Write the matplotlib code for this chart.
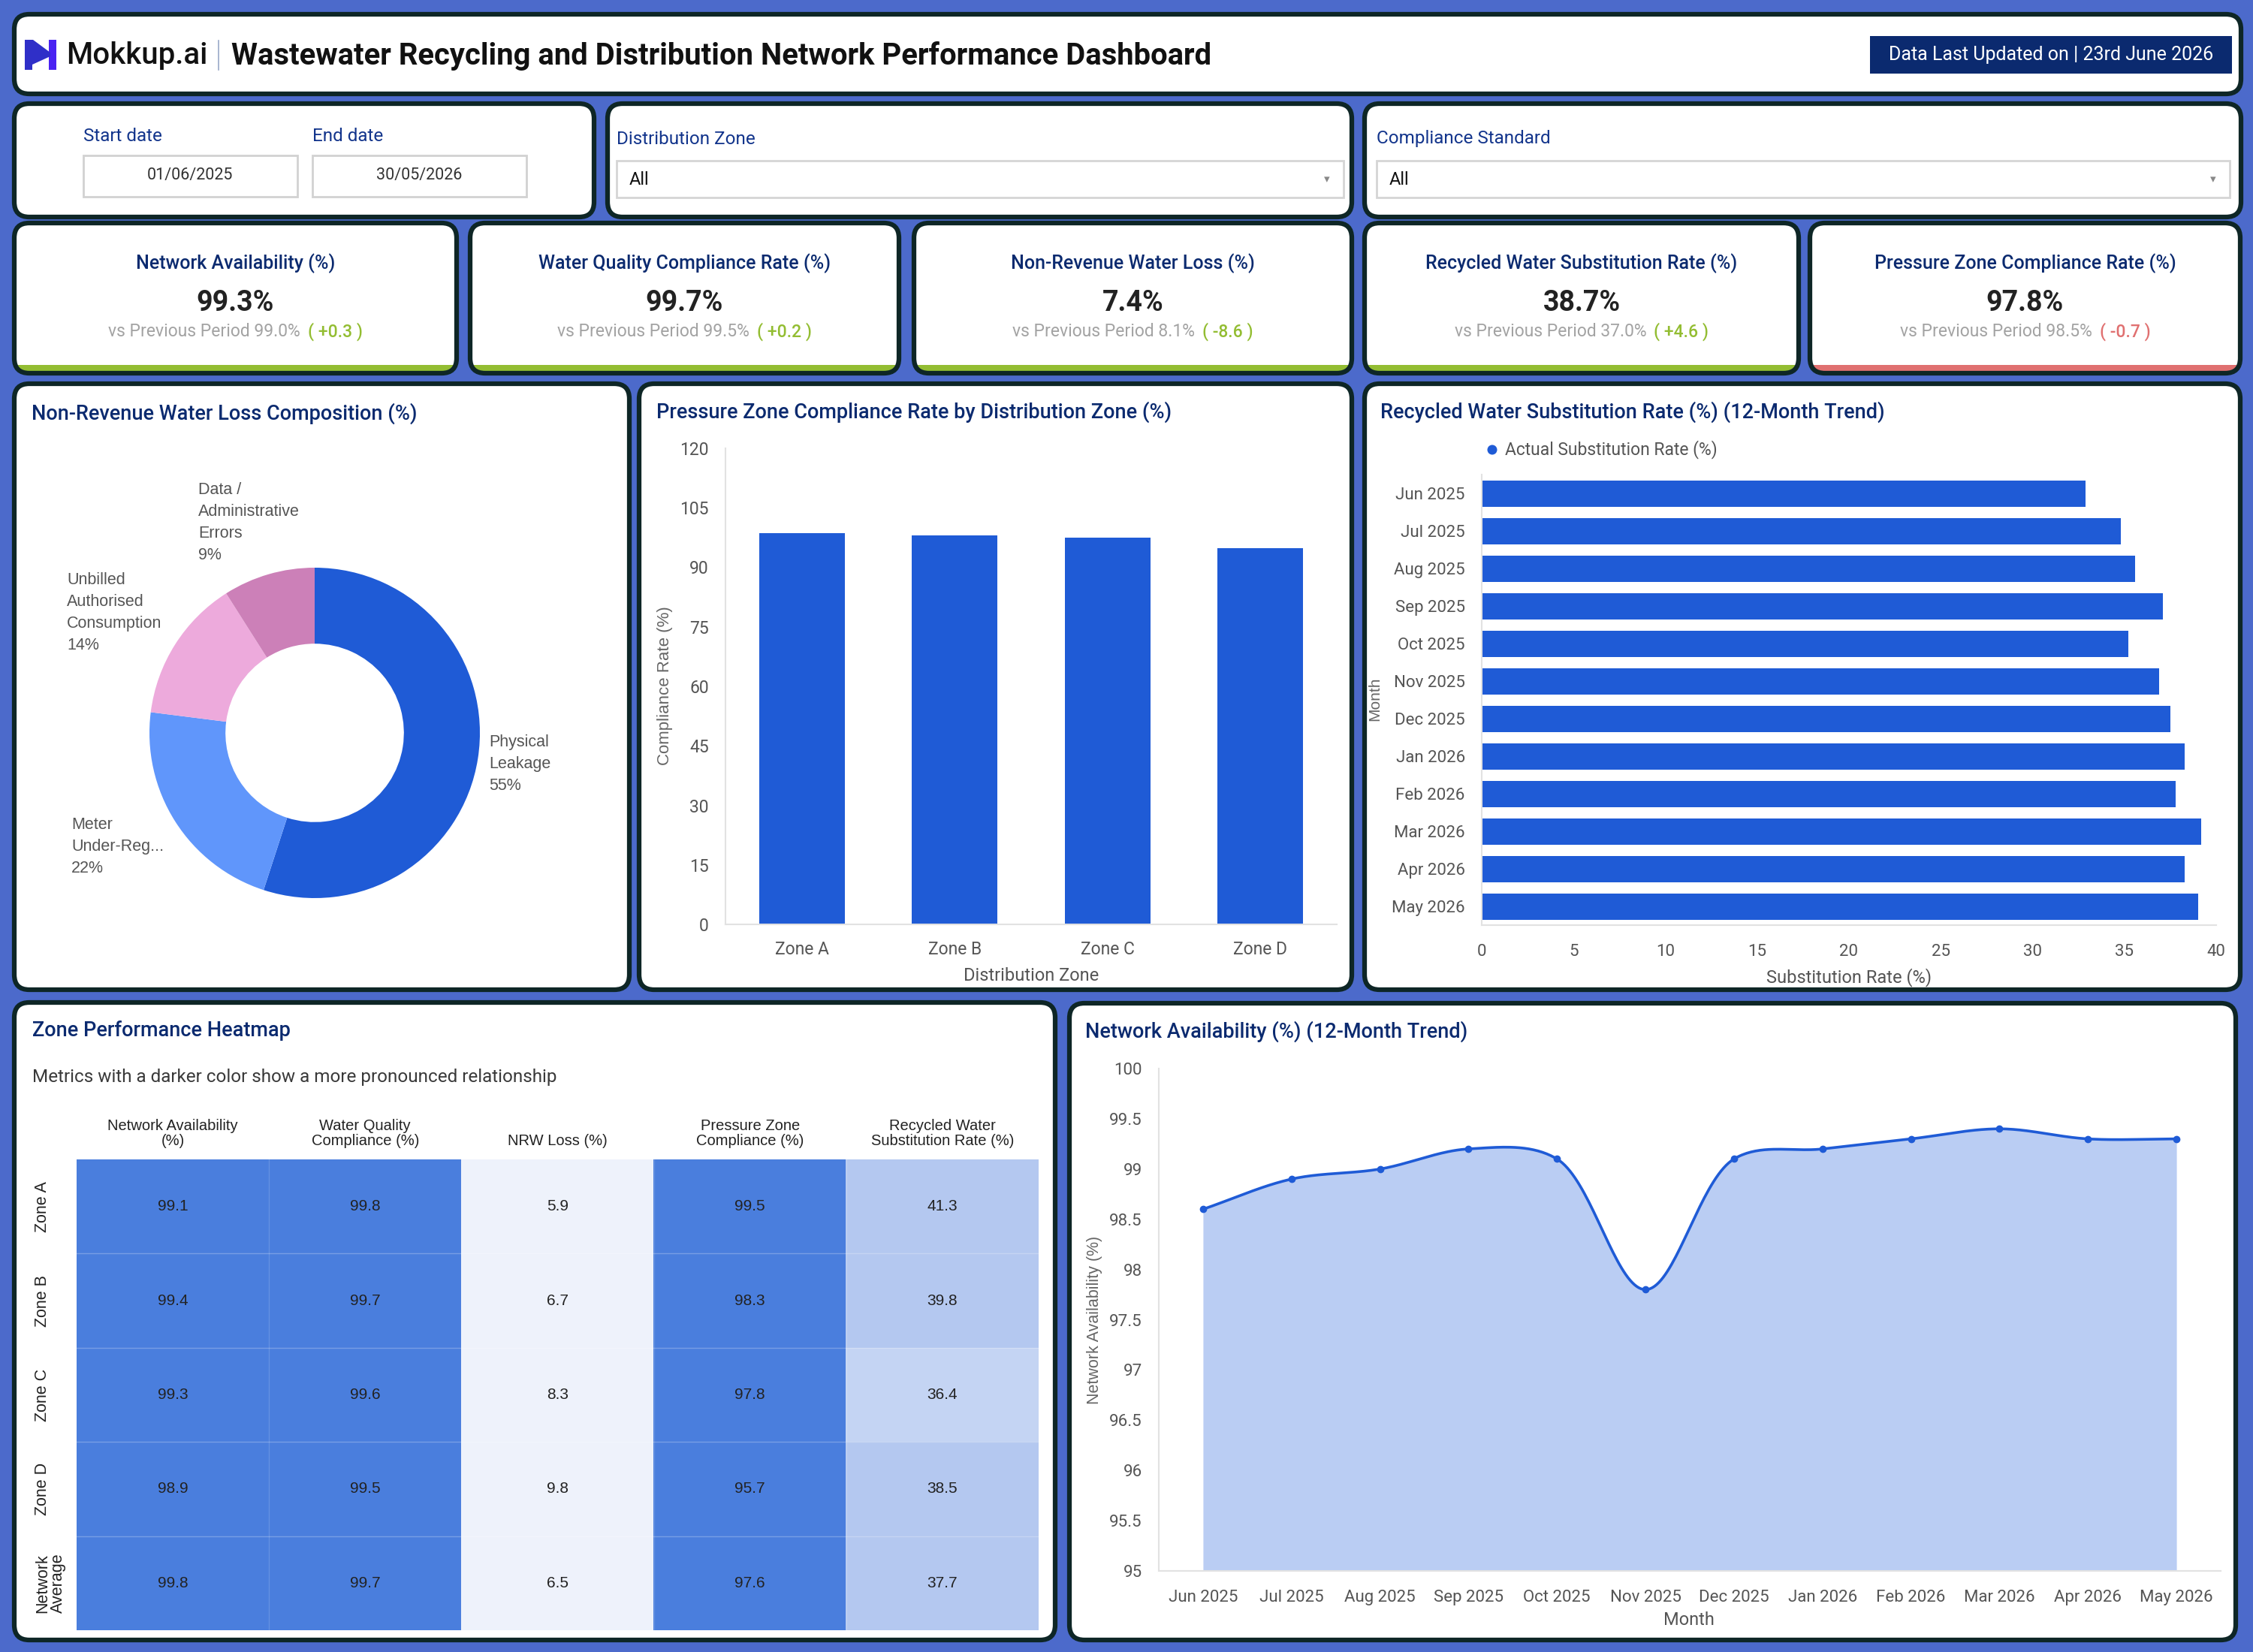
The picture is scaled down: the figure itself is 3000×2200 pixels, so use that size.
import numpy as np
import matplotlib.pyplot as plt
from matplotlib.patches import FancyBboxPatch, Rectangle, Polygon, Circle
from matplotlib.colors import ListedColormap, BoundaryNorm
from matplotlib.transforms import blended_transform_factory

plt.rcParams['font.family'] = ['Roboto', 'DejaVu Sans']

W, H = 3000, 2200
BG = '#4C6ACB'
EDGE = '#0E2626'
NAVY = '#0B2A6F'
BLUE = '#1F5BD6'
GREEN = '#93BD32'
RED = '#E07070'
ARIAL = ['Liberation Sans', 'DejaVu Sans']

# ---- data ----
kpi_titles = ['Network Availability (%)', 'Water Quality Compliance Rate (%)',
              'Non-Revenue Water Loss (%)', 'Recycled Water Substitution Rate (%)',
              'Pressure Zone Compliance Rate (%)']
kpi_values = ['99.3%', '99.7%', '7.4%', '38.7%', '97.8%']
kpi_prev = ['99.0%', '99.5%', '8.1%', '37.0%', '98.5%']
kpi_delta = ['+0.3', '+0.2', '-8.6', '+4.6', '-0.7']
kpi_good = [True, True, True, True, False]

nrw_labels = ['Physical\nLeakage\n55%', 'Meter\nUnder-Reg...\n22%',
              'Unbilled\nAuthorised\nConsumption\n14%', 'Data /\nAdministrative\nErrors\n9%']
nrw_share = [55, 22, 14, 9]
nrw_colors = ['#1F5BD6', '#6096FB', '#EDAADC', '#CC80B8']

zones = ['Zone A', 'Zone B', 'Zone C', 'Zone D']
zone_pressure = [98.7, 98.0, 97.5, 94.9]

months = ['Jun 2025', 'Jul 2025', 'Aug 2025', 'Sep 2025', 'Oct 2025', 'Nov 2025',
          'Dec 2025', 'Jan 2026', 'Feb 2026', 'Mar 2026', 'Apr 2026', 'May 2026']
recycled_rate = [32.9, 34.8, 35.6, 37.1, 35.2, 36.9, 37.5, 38.3, 37.8, 39.2, 38.3, 39.0]
availability = [98.6, 98.9, 99.0, 99.2, 99.1, 97.8, 99.1, 99.2, 99.3, 99.4, 99.3, 99.3]

heat_rows = ['Zone A', 'Zone B', 'Zone C', 'Zone D', 'Network\nAverage']
heat_cols = ['Network Availability\n(%)', 'Water Quality\nCompliance (%)', 'NRW Loss (%)',
             'Pressure Zone\nCompliance (%)', 'Recycled Water\nSubstitution Rate (%)']
heat_values = [[99.1, 99.8, 5.9, 99.5, 41.3],
               [99.4, 99.7, 6.7, 98.3, 39.8],
               [99.3, 99.6, 8.3, 97.8, 36.4],
               [98.9, 99.5, 9.8, 95.7, 38.5],
               [99.8, 99.7, 6.5, 97.6, 37.7]]

fig = plt.figure(figsize=(30, 22), dpi=100)
fig.patch.set_facecolor(BG)
bg = fig.add_axes([0, 0, 1, 1])
bg.set_xlim(0, W)
bg.set_ylim(H, 0)
bg.axis('off')
renderer = fig.canvas.get_renderer()


def px_axes(x0, y0, x1, y1):
    a = fig.add_axes([x0 / W, 1 - y1 / H, (x1 - x0) / W, (y1 - y0) / H])
    a.set_facecolor('none')
    return a


def card(x0, y0, x1, y1, strip=None):
    p = FancyBboxPatch((x0, y0), x1 - x0, y1 - y0, boxstyle='round,pad=0,rounding_size=20',
                       fc=strip or 'white', ec='none', zorder=1)
    bg.add_patch(p)
    if strip:
        r = Rectangle((x0, y0), x1 - x0, y1 - y0 - 11, fc='white', ec='none', zorder=1.1)
        bg.add_patch(r)
        r.set_clip_path(p)
    bg.add_patch(FancyBboxPatch((x0, y0), x1 - x0, y1 - y0, boxstyle='round,pad=0,rounding_size=20',
                                fc='none', ec=EDGE, lw=4.5, zorder=1.2))


# ---- header ----
card(19, 19, 2984, 125)
bg.add_patch(Rectangle((65, 53), 10, 40, fc='#4A22F2', ec='none', zorder=2))
bg.add_patch(Polygon([(33, 53), (44, 53), (67, 70), (67, 75), (43, 86), (43, 93), (33, 93)],
                     closed=True, fc='#2F2FC8', ec='none', zorder=2.1))
bg.text(88, 74, 'Mokkup.ai', fontsize=29, fontweight='medium', color='#111111', va='center', zorder=3)
bg.plot([291, 291], [54, 93], color='#9AA9C8', lw=1.2, zorder=3)
bg.text(308, 74, 'Wastewater Recycling and Distribution Network Performance Dashboard',
        fontsize=28.8, fontweight='bold', color='#111111', va='center', zorder=3)
bg.add_patch(Rectangle((2490, 48), 482, 50, fc='#0B2A6F', ec='none', zorder=2))
bg.text(2731, 73, 'Data Last Updated on | 23rd June 2026', fontsize=18, color='white',
        ha='center', va='center', zorder=3)

# ---- filters ----
card(19, 138, 791, 289)
card(809, 138, 1800, 289)
card(1817, 138, 2984, 289)
for lab, val, x0 in [('Start date', '01/06/2025', 111), ('End date', '30/05/2026', 416)]:
    bg.text(x0, 182, lab, fontsize=17.5, color='#13358C', va='center', zorder=3)
    bg.add_patch(Rectangle((x0, 207), 285, 55, fc='white', ec='#D2D2D2', lw=2, zorder=2))
    bg.text(x0 + 142, 234, val, fontsize=15.5, color='#333333', ha='center', va='center', zorder=3)
for lab, x0, x1 in [('Distribution Zone', 821, 1789), ('Compliance Standard', 1833, 2969)]:
    bg.text(x0, 185, lab, fontsize=17.5, color='#13358C', va='center', zorder=3)
    bg.add_patch(Rectangle((x0, 214), x1 - x0, 49, fc='white', ec='#D5D5D5', lw=2, zorder=2))
    bg.text(x0 + 17, 239, 'All', fontsize=17, color='#111111', va='center', zorder=3)
    bg.text(x1 - 22, 239, '\u25BE', fontsize=11, color='#888888', ha='center', va='center',
            family='DejaVu Sans', zorder=3)

# ---- KPI cards ----
kpi_boxes = [(19, 297, 608, 497), (626, 297, 1197, 497), (1217, 297, 1800, 497),
             (1817, 297, 2395, 497), (2410, 297, 2983, 497)]
for i, (x0, y0, x1, y1) in enumerate(kpi_boxes):
    dc = GREEN if kpi_good[i] else RED
    card(x0, y0, x1, y1, strip=dc)
    cx = (x0 + x1) / 2
    bg.text(cx, 351, kpi_titles[i], fontsize=18, fontweight='medium', color=NAVY,
            ha='center', va='center', zorder=3)
    bg.text(cx, 403, kpi_values[i], fontsize=27, fontweight='bold', color='#222222',
            ha='center', va='center', zorder=3)
    t1 = bg.text(0, 442, 'vs Previous Period ' + kpi_prev[i], fontsize=16.5, color='#A3A3A3',
                 va='center', zorder=3)
    t2 = bg.text(0, 442, '( ' + kpi_delta[i] + ' )', fontsize=16.5, color=dc, fontweight='medium',
                 va='center', zorder=3)
    w1 = t1.get_window_extent(renderer).width
    w2 = t2.get_window_extent(renderer).width
    start = cx - (w1 + 10 + w2) / 2
    t1.set_x(start)
    t2.set_x(start + w1 + 10)

# ---- middle row cards ----
card(19, 511, 838, 1318)
card(851, 511, 1800, 1318)
card(1817, 511, 2983, 1318)
bg.text(42, 551, 'Non-Revenue Water Loss Composition (%)', fontsize=19.5, fontweight='medium',
        color=NAVY, va='center', zorder=3)
bg.text(874, 549, 'Pressure Zone Compliance Rate by Distribution Zone (%)', fontsize=19.5,
        fontweight='medium', color=NAVY, va='center', zorder=3)
bg.text(1838, 549, 'Recycled Water Substitution Rate (%) (12-Month Trend)', fontsize=19.5,
        fontweight='medium', color=NAVY, va='center', zorder=3)

# donut
ax = px_axes(199, 756, 639, 1196)
ax.pie(nrw_share, colors=nrw_colors, startangle=90, counterclock=False, radius=1,
       wedgeprops=dict(width=0.46, edgecolor='none'))
ax.set_xlim(-1, 1)
ax.set_ylim(-1, 1)
ax.set_aspect('auto')
ax.axis('off')
for lab, (lx, ly) in zip(nrw_labels, [(651, 978), (95, 1088), (89, 762), (264, 642)]):
    bg.text(lx, ly, lab, fontsize=15.5, color='#555555', va='top', ha='left',
            linespacing=1.5, family=ARIAL, zorder=3)

# vertical bars
ax = px_axes(966, 597, 1780, 1231)
ax.bar(range(len(zones)), zone_pressure, width=0.56, color=BLUE)
ax.set_xlim(-0.5, len(zones) - 0.5)
ax.set_ylim(0, 120)
ax.set_yticks(np.arange(0, 121, 15))
ax.set_xticks(range(len(zones)))
ax.set_xticklabels(zones)
for s in ['top', 'right']:
    ax.spines[s].set_visible(False)
for s in ['left', 'bottom']:
    ax.spines[s].set_color('#E2E2E2')
    ax.spines[s].set_linewidth(1.5)
ax.tick_params(length=0, labelsize=16.5, labelcolor='#555555')
ax.tick_params(axis='y', pad=16)
ax.tick_params(axis='x', pad=16)
bg.text(886, 913, 'Compliance Rate (%)', rotation=90, fontsize=16, color='#666666',
        ha='center', va='center', family=ARIAL, zorder=3)
bg.text(1373, 1299, 'Distribution Zone', fontsize=17, color='#555555', ha='center',
        va='center', zorder=3)

# horizontal bars
ax = px_axes(1973, 632, 2951, 1232)
ax.barh(range(len(months)), recycled_rate, height=0.7, color=BLUE)
ax.set_ylim(len(months) - 0.5, -0.5)
ax.set_xlim(0, 40)
ax.set_xticks(np.arange(0, 41, 5))
ax.set_yticks(range(len(months)))
ax.set_yticklabels(months)
for s in ['top', 'right']:
    ax.spines[s].set_visible(False)
for s in ['left', 'bottom']:
    ax.spines[s].set_color('#E2E2E2')
    ax.spines[s].set_linewidth(1.5)
ax.tick_params(length=0, labelsize=16, labelcolor='#555555')
ax.tick_params(axis='y', pad=16)
ax.tick_params(axis='x', pad=18)
bg.add_patch(Circle((1987, 599), 6.5, fc=BLUE, ec='none', zorder=3))
bg.text(2004, 599, 'Actual Substitution Rate (%)', fontsize=16.5, color='#555555',
        va='center', zorder=3)
bg.text(1831, 931, 'Month', rotation=90, fontsize=15, color='#666666', ha='center',
        va='center', family=ARIAL, zorder=3)
bg.text(2462, 1302, 'Substitution Rate (%)', fontsize=17, color='#555555', ha='center',
        va='center', zorder=3)

# ---- bottom row ----
card(19, 1335, 1405, 2184)
card(1424, 1336, 2977, 2184)
bg.text(43, 1373, 'Zone Performance Heatmap', fontsize=19.5, fontweight='medium', color=NAVY,
        va='center', zorder=3)
bg.text(43, 1434, 'Metrics with a darker color show a more pronounced relationship',
        fontsize=17.5, color='#3A3A3A', va='center', zorder=3)
bg.text(1445, 1374, 'Network Availability (%) (12-Month Trend)', fontsize=19.5,
        fontweight='medium', color=NAVY, va='center', zorder=3)

# heatmap
ax = px_axes(102, 1544, 1383, 2171)
cmap = ListedColormap(['#EEF2FB', '#C4D4F3', '#B4C8F0', '#4A7EDD'])
norm = BoundaryNorm([0, 20, 37, 60, 101], cmap.N)
vals = np.array(heat_values)
ax.imshow(vals, cmap=cmap, norm=norm, aspect='auto',
          extent=(-0.5, vals.shape[1] - 0.5, vals.shape[0] - 0.5, -0.5))
for i in range(vals.shape[0]):
    for j in range(vals.shape[1]):
        ax.text(j, i, f'{vals[i, j]:.1f}', ha='center', va='center', fontsize=15,
                color='#222222', family=ARIAL)
for k in range(1, vals.shape[0]):
    ax.axhline(k - 0.5, color='white', lw=1, alpha=0.25)
for k in range(1, vals.shape[1]):
    ax.axvline(k - 0.5, color='white', lw=1, alpha=0.15)
ax.xaxis.tick_top()
ax.set_xticks(range(len(heat_cols)))
ax.set_xticklabels(heat_cols, family=ARIAL, fontsize=14.5, color='#222222', linespacing=1.05)
ax.set_yticks([])
ax.tick_params(length=0, pad=11)
for s in ax.spines.values():
    s.set_visible(False)
tr = blended_transform_factory(bg.transData, ax.transData)
for i, lab in enumerate(heat_rows):
    ax.text(46, i, lab, transform=tr, rotation=90, ha='left', va='center', fontsize=15.5,
            color='#222222', family=ARIAL, linespacing=1.0, multialignment='center')


# line chart
def catmull_rom(xs, ys, sx=118.0, sy=134.0, alpha=0.5, n=40):
    P = np.column_stack([np.asarray(xs, float) * sx, np.asarray(ys, float) * sy])
    P = np.vstack([2 * P[0] - P[1], P, 2 * P[-1] - P[-2]])
    out = []
    for i in range(1, len(P) - 2):
        p0, p1, p2, p3 = P[i - 1], P[i], P[i + 1], P[i + 2]
        t0 = 0.0
        t1 = t0 + np.linalg.norm(p1 - p0) ** alpha
        t2 = t1 + np.linalg.norm(p2 - p1) ** alpha
        t3 = t2 + np.linalg.norm(p3 - p2) ** alpha
        t = np.linspace(t1, t2, n)[:, None]
        A1 = (t1 - t) / (t1 - t0) * p0 + (t - t0) / (t1 - t0) * p1
        A2 = (t2 - t) / (t2 - t1) * p1 + (t - t1) / (t2 - t1) * p2
        A3 = (t3 - t) / (t3 - t2) * p2 + (t - t2) / (t3 - t2) * p3
        B1 = (t2 - t) / (t2 - t0) * A1 + (t - t0) / (t2 - t0) * A2
        B2 = (t3 - t) / (t3 - t1) * A2 + (t - t1) / (t3 - t1) * A3
        C = (t2 - t) / (t2 - t1) * B1 + (t - t1) / (t2 - t1) * B2
        out.append(C if i == 1 else C[1:])
    C = np.vstack(out)
    return C[:, 0] / sx, C[:, 1] / sy


ax = px_axes(1543, 1423, 2957, 2092)
xi = np.arange(len(months))
cx, cy = catmull_rom(xi, availability)
ax.fill_between(cx, cy, 95, color='#BACDF3', lw=0)
ax.plot(cx, cy, color=BLUE, lw=2.6)
ax.plot(xi, availability, 'o', color=BLUE, ms=6)
ax.set_xlim(-0.5, len(months) - 0.5)
ax.set_ylim(95, 100)
ax.set_yticks(np.arange(95, 100.01, 0.5))
ax.set_yticklabels([f'{v:g}' for v in np.arange(95, 100.01, 0.5)])
ax.set_xticks(xi)
ax.set_xticklabels(months)
for s in ['top', 'right']:
    ax.spines[s].set_visible(False)
for s in ['left', 'bottom']:
    ax.spines[s].set_color('#E2E2E2')
    ax.spines[s].set_linewidth(1.5)
ax.tick_params(length=0, labelsize=16, labelcolor='#555555')
ax.tick_params(axis='y', pad=16)
ax.tick_params(axis='x', pad=18)
bg.text(1457, 1758, 'Network Availability (%)', rotation=90, fontsize=15.5, color='#666666',
        ha='center', va='center', family=ARIAL, zorder=3)
bg.text(2249, 2158, 'Month', fontsize=17, color='#555555', ha='center', va='center', zorder=3)

fig.savefig('out.png', dpi=100, facecolor=BG)
